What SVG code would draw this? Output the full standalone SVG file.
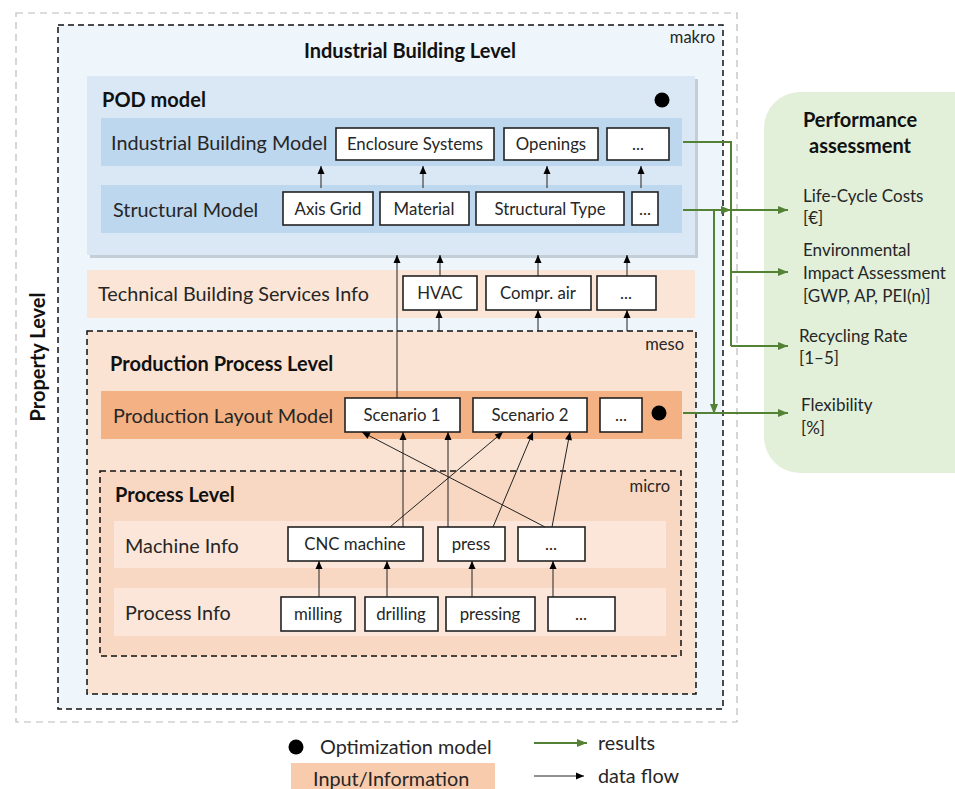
<svg xmlns="http://www.w3.org/2000/svg" width="955" height="789" viewBox="0 0 955 789">
<defs>
<marker id="ab" markerWidth="10" markerHeight="10" refX="9" refY="5" orient="auto" markerUnits="userSpaceOnUse"><path d="M1,1.5 L9,5 L1,8.5 Z" fill="#000"/></marker>
<marker id="ag" markerWidth="12" markerHeight="12" refX="11" refY="6" orient="auto" markerUnits="userSpaceOnUse"><path d="M1,2 L11,6 L1,10 Z" fill="#548235"/></marker>
</defs>
<style>
text{font-family:Lato,"Open Sans","Liberation Sans",sans-serif;fill:#262626}
.t{font-size:19.8px}
.b{font-size:20px;font-weight:bold;fill:#111}
.bx{fill:#fff;stroke:#222;stroke-width:1.6}
.bt{font-size:16.8px;text-anchor:middle}
.s{font-size:16.5px}
.df{stroke:#222;stroke-width:1;fill:none;marker-end:url(#ab)}
.g{stroke:#548235;stroke-width:2;fill:none}
.ga{stroke:#548235;stroke-width:2;fill:none;marker-end:url(#ag)}
.pa{font-size:17px}
</style>
<rect width="955" height="789" fill="#fff"/>

<g id="property-level">
<rect x="16" y="13" width="721" height="709" fill="#fff" stroke="#bbb" stroke-width="1.2" stroke-dasharray="7,5"/>
<text class="b" transform="translate(45,357) rotate(-90)" text-anchor="middle">Property Level</text>
</g>

<g id="industrial-building-level">
<rect x="58" y="25" width="665" height="684" fill="#eef5fb" stroke="#111" stroke-width="1.5" stroke-dasharray="6,4"/>
<text class="b" x="410" y="58" text-anchor="middle">Industrial Building Level</text>
<text class="s" x="715" y="43" text-anchor="end">makro</text>
</g>

<g id="pod-model">
<rect x="90" y="79" width="608" height="179" fill="#a9b4c0" opacity="0.6"/>
<rect x="87" y="76" width="608" height="179" fill="#dae7f4"/>
<text class="b" x="102" y="107">POD model</text>
<circle cx="662" cy="100" r="7.5" fill="#000"/>
</g>

<g id="industrial-building-model">
<rect x="101" y="118" width="581" height="48" fill="#bdd7ee"/>
<text class="t" x="111" y="150">Industrial Building Model</text>
</g>
<g id="enclosure-systems"><rect class="bx" x="336" y="128" width="158" height="32"/><text class="bt" x="415" y="150">Enclosure Systems</text></g>
<g id="openings"><rect class="bx" x="504" y="128" width="94" height="32"/><text class="bt" x="551" y="150">Openings</text></g>
<g id="ibm-more"><rect class="bx" x="607" y="128" width="62" height="32"/><text class="bt" x="638" y="150">...</text></g>

<g id="structural-model">
<rect x="101" y="185" width="581" height="48" fill="#bdd7ee"/>
<text class="t" x="113" y="217">Structural Model</text>
</g>
<g id="axis-grid"><rect class="bx" x="283" y="192" width="90" height="33"/><text class="bt" x="328" y="215">Axis Grid</text></g>
<g id="material"><rect class="bx" x="380" y="192" width="89" height="33"/><text class="bt" x="424" y="215">Material</text></g>
<g id="structural-type"><rect class="bx" x="476" y="192" width="148" height="33"/><text class="bt" x="550" y="215">Structural Type</text></g>
<g id="sm-more"><rect class="bx" x="632" y="192" width="26" height="33"/><text class="bt" x="645" y="215">...</text></g>

<g id="technical-building-services">
<rect x="87" y="270" width="608" height="48" fill="#fbe5d6"/>
<text class="t" x="98" y="301">Technical Building Services Info</text>
</g>
<g id="hvac"><rect class="bx" x="403" y="276" width="74" height="34"/><text class="bt" x="440" y="299">HVAC</text></g>
<g id="compr-air"><rect class="bx" x="486" y="276" width="105" height="34"/><text class="bt" x="538" y="299">Compr. air</text></g>
<g id="tbs-more"><rect class="bx" x="597" y="276" width="59" height="34"/><text class="bt" x="626" y="299">...</text></g>

<g id="production-process-level">
<rect x="87" y="331" width="609" height="363" fill="#fbe3d4" stroke="#111" stroke-width="1.5" stroke-dasharray="6,4"/>
<text class="s" x="684" y="350" text-anchor="end">meso</text>
<text class="b" x="110" y="371">Production Process Level</text>
</g>

<g id="production-layout-model">
<rect x="101" y="391" width="581" height="48" fill="#f4b183"/>
<text class="t" x="113" y="423">Production Layout Model</text>
<circle cx="659" cy="413" r="7.5" fill="#000"/>
</g>
<g id="scenario-1"><rect class="bx" x="345" y="398" width="115" height="34"/><text class="bt" x="402" y="421">Scenario 1</text></g>
<g id="scenario-2"><rect class="bx" x="473" y="398" width="114" height="34"/><text class="bt" x="530" y="421">Scenario 2</text></g>
<g id="plm-more"><rect class="bx" x="600" y="398" width="42" height="34"/><text class="bt" x="621" y="421">...</text></g>

<g id="process-level">
<rect x="100" y="471" width="581" height="185" fill="#f8d8c2" stroke="#111" stroke-width="1.5" stroke-dasharray="6,4"/>
<text class="s" x="670" y="492" text-anchor="end">micro</text>
<text class="b" x="115" y="502">Process Level</text>
</g>

<g id="machine-info">
<rect x="114" y="521" width="552" height="47" fill="#fbe6d9"/>
<text class="t" x="125" y="553">Machine Info</text>
</g>
<g id="cnc-machine"><rect class="bx" x="288" y="527" width="135" height="34"/><text class="bt" x="355" y="550">CNC machine</text></g>
<g id="press"><rect class="bx" x="438" y="527" width="67" height="34"/><text class="bt" x="471" y="550">press</text></g>
<g id="machine-more"><rect class="bx" x="518" y="527" width="67" height="34"/><text class="bt" x="551" y="550">...</text></g>

<g id="process-info">
<rect x="114" y="588" width="552" height="48" fill="#fbe6d9"/>
<text class="t" x="125" y="620">Process Info</text>
</g>
<g id="milling"><rect class="bx" x="281" y="597" width="74" height="34"/><text class="bt" x="318" y="620">milling</text></g>
<g id="drilling"><rect class="bx" x="365" y="597" width="73" height="34"/><text class="bt" x="401" y="620">drilling</text></g>
<g id="pressing"><rect class="bx" x="446" y="597" width="89" height="34"/><text class="bt" x="490" y="620">pressing</text></g>
<g id="process-more"><rect class="bx" x="548" y="597" width="67" height="34"/><text class="bt" x="581" y="620">...</text></g>

<g id="performance-assessment">
<rect x="764" y="92" width="230" height="381" rx="36" fill="#e2efd9"/>
<text class="b" x="860" y="127" text-anchor="middle">Performance</text>
<text class="b" x="860" y="153" text-anchor="middle">assessment</text>
<text class="pa" x="803" y="202">Life-Cycle Costs</text>
<text class="pa" x="803" y="224">[€]</text>
<text class="pa" x="803" y="256">Environmental</text>
<text class="pa" x="803" y="279">Impact Assessment</text>
<text class="pa" x="803" y="302">[GWP, AP, PEI(n)]</text>
<text class="pa" x="799" y="342">Recycling Rate</text>
<text class="pa" x="799" y="364"> [1–5]</text>
<text class="pa" x="801" y="411">Flexibility</text>
<text class="pa" x="801" y="434">[%]</text>
</g>

<g id="connectors">
<line class="df" x1="321" y1="188" x2="321" y2="166"/>
<line class="df" x1="423" y1="188" x2="423" y2="166"/>
<line class="df" x1="547" y1="188" x2="547" y2="166"/>
<line class="df" x1="641" y1="188" x2="641" y2="166"/>
<line class="df" x1="397" y1="398" x2="397" y2="255"/>
<line class="df" x1="440" y1="276" x2="440" y2="255"/>
<line class="df" x1="538" y1="276" x2="538" y2="255"/>
<line class="df" x1="627" y1="276" x2="627" y2="255"/>
<line class="df" x1="439" y1="331" x2="439" y2="310"/>
<line class="df" x1="538" y1="331" x2="538" y2="310"/>
<line class="df" x1="627" y1="331" x2="627" y2="310"/>
<line class="df" x1="403" y1="527" x2="403" y2="432"/>
<line class="df" x1="390" y1="527" x2="503" y2="432"/>
<line class="df" x1="448" y1="527" x2="448" y2="432"/>
<line class="df" x1="493" y1="527" x2="533" y2="432"/>
<line class="df" x1="545" y1="527" x2="362" y2="432"/>
<line class="df" x1="552" y1="527" x2="570" y2="432"/>
<line class="df" x1="319" y1="597" x2="319" y2="561"/>
<line class="df" x1="387" y1="597" x2="387" y2="561"/>
<line class="df" x1="472" y1="597" x2="472" y2="561"/>
<line class="df" x1="553" y1="597" x2="553" y2="561"/>
<polyline class="g" points="683,142 731,142 731,346"/>
<line class="ga" x1="731" y1="272" x2="788" y2="272"/>
<line class="ga" x1="731" y1="346" x2="788" y2="346"/>
<line class="ga" x1="683" y1="210" x2="731" y2="210"/>
<line class="ga" x1="731" y1="210" x2="788" y2="210"/>
<line class="ga" x1="714" y1="210" x2="714" y2="414"/>
<line class="ga" x1="683" y1="413" x2="788" y2="413"/>
</g>

<g id="legend">
<circle cx="296" cy="747" r="7.5" fill="#000"/>
<text class="t" x="320" y="754">Optimization model</text>
<rect x="291" y="763" width="204" height="30" fill="#f8cbad"/>
<text class="t" x="313" y="786">Input/Information</text>
<line class="ga" x1="534" y1="743" x2="587" y2="743"/>
<text class="t" x="598" y="750">results</text>
<line class="df" x1="534" y1="776" x2="584" y2="776"/>
<text class="t" x="598" y="783">data flow</text>
</g>
</svg>
